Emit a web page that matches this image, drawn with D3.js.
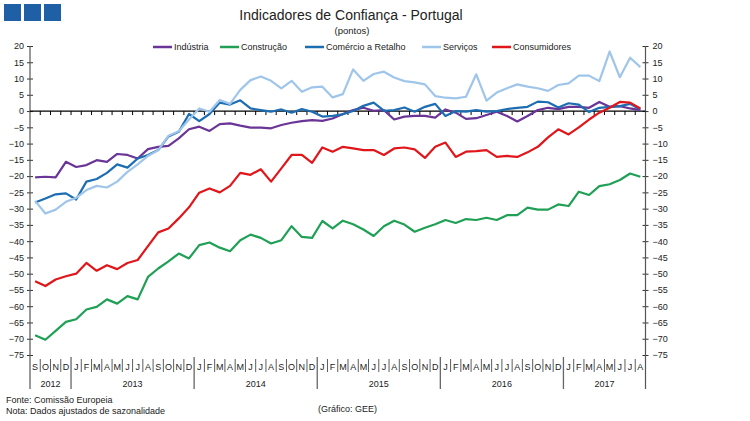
<!DOCTYPE html>
<html>
<head>
<meta charset="utf-8">
<script src="https://cdn.jsdelivr.net/npm/d3@7"></script>
<style>
  body { margin: 0; background: #fff; }
  svg { font-family: "Liberation Sans", Arial, sans-serif; }
</style>
</head>
<body>
<div id="chart"></div>
<script>
// meses: Set 2012 .. Ago 2017
var monthInitials = ['J','F','M','A','M','J','J','A','S','O','N','D'];
var startMonth = 8; // Setembro
var nMonths = 60;
var years = ['2012','2013','2014','2015','2016','2017'];
var yTicks = d3.range(-75, 21, 5);

var industria = [-20.4,-20.2,-20.4,-15.6,-17.2,-16.6,-15.1,-15.6,-13.2,-13.5,-14.6,-11.7,-11,-10.7,-8.4,-5.6,
  -4.8,-6.1,-4,-3.8,-4.5,-5.1,-5.1,-5.3,-4.3,-3.6,-3.1,-2.8,
  -3,-2.3,-0.9,0.3,1,0.1,0.3,-2.6,-1.7,-1.5,-1.5,-2,
  0.5,-0.5,-2.4,-2.2,-1.2,-0.2,-1.5,-3.2,-1.5,0.3,1,0.6,
  1.3,1.3,1,2.8,1.3,1.5,0.8,0.3];
var construcao = [-68.9,-70.3,-67.6,-64.8,-64,-61,-60.2,-57.9,-59.2,-56.9,-57.9,-51,-48.4,-46.2,-43.8,-45.3,
  -41.2,-40.4,-42,-43.1,-39.7,-38,-39,-40.7,-39.7,-35.4,-38.7,-39,
  -33.8,-36.1,-33.7,-34.8,-36.4,-38.4,-35.4,-33.7,-34.9,-37.1,-35.9,-34.8,
  -33.5,-34.4,-33.2,-33.5,-32.8,-33.5,-32,-32,-29.7,-30.3,-30.3,-28.7,
  -29.2,-24.8,-25.8,-23.1,-22.5,-21.2,-19.2,-20.2];
var comercio = [-28.1,-26.9,-25.6,-25.3,-27.2,-21.7,-20.9,-19,-16.4,-17.4,-14.6,-13.5,-12,-7.8,-6.4,-0.9,
  -3.1,-0.9,2.6,2,3.3,0.8,0.3,-0.2,0.5,-0.5,0.6,-0.2,
  -1.7,-1.5,-1,0,1.6,2.6,0.1,0.3,1.1,-0.2,1.3,2.2,
  -1.5,0,-0.2,0.3,-0.2,0,0.6,1,1.3,2.9,2.7,1.1,
  2.4,2,-0.3,1,1.3,1.5,2.2,0.5];
var servicos = [-27.6,-31.5,-30.3,-27.9,-26.7,-24.3,-23,-23.5,-21.7,-18.7,-16.4,-13.8,-12,-7.6,-6.2,-2.6,
  0.8,-0.2,3.4,2.2,6.5,9.5,10.6,9.3,7,9.3,5.9,7.3,
  7.5,4.2,5.2,12.8,9.3,11.4,12.1,10.3,9.2,8.8,8.2,4.6,
  4.1,3.9,4.4,11.3,3.2,5.7,7,8.2,7.5,7,6.2,8,
  8.5,10.9,10.9,9.2,18.3,10.4,16.4,13.5];
var consumidores = [-52.3,-53.8,-51.8,-50.8,-50,-46.7,-49.1,-47.4,-48.6,-46.7,-45.8,-41.5,-37.3,-36.1,-33,-29.6,
  -25.1,-23.8,-25,-23,-19,-19.6,-17.9,-21.7,-17.6,-13.5,-13.5,-15.9,
  -11.2,-12.5,-11,-11.5,-12,-12,-13.5,-11.5,-11.2,-11.8,-14.4,-11,
  -9.7,-14.1,-12.5,-12.3,-12,-14.1,-13.8,-14.1,-12.7,-11,-8.1,-5.6,
  -7.2,-5,-2.6,-0.5,1,2.8,2.6,0.8];

var seriesNames = ['Indústria','Construção','Comércio a Retalho','Serviços','Consumidores'];
var seriesData = [industria, construcao, comercio, servicos, consumidores];
var colors = ['#6a3597','#1fa055','#1d6db2','#9fc6ea','#e0161b'];

var W = 750, H = 421;
var plotL = 30, plotR = 645.5, plotT = 46, plotB = 355;

var svg = d3.select('#chart').append('svg').attr('width', W).attr('height', H);

// logo
svg.selectAll('rect.logo').data([0,1,2]).enter().append('rect')
  .attr('x', function(d){ return 4 + d * 20; }).attr('y', 4)
  .attr('width', 17).attr('height', 17).attr('fill', '#1f5fa6');

svg.append('text').attr('x', 351).attr('y', 20).attr('text-anchor', 'middle')
  .style('font-size', '14px').attr('fill', '#222').text('Indicadores de Confiança - Portugal');
svg.append('text').attr('x', 352).attr('y', 34).attr('text-anchor', 'middle')
  .style('font-size', '9.5px').attr('fill', '#222').text('(pontos)');

var x = d3.scaleBand().domain(d3.range(nMonths)).range([plotL, plotR]);
var bw = x.bandwidth();
var y = d3.scaleLinear().domain([-75, 20]).range([plotB, plotT]);

// eixos verticais
function vAxis(axis, pos, dx) {
  var g = svg.append('g').attr('transform', 'translate(' + pos + ',0)').call(axis.tickValues(yTicks).tickSize(3).tickPadding(5));
  g.select('.domain').remove();
  g.selectAll('.tick line').attr('x1', -3).attr('x2', 3).attr('stroke', '#333');
  g.selectAll('.tick text').style('font-size', '9px').attr('fill', '#222')
    .attr('x', dx);
  g.append('line').attr('x1', 0).attr('x2', 0).attr('y1', plotT).attr('y2', 389)
    .attr('stroke', '#555').attr('stroke-width', 1.2);
}
vAxis(d3.axisLeft(y), plotL, -6);
vAxis(d3.axisRight(y), plotR, 7);

// linha do zero com marcas mensais
svg.append('line').attr('x1', plotL).attr('x2', plotR).attr('y1', y(0)).attr('y2', y(0))
  .attr('stroke', '#000').attr('stroke-width', 1.2);
svg.selectAll('line.mt').data(d3.range(1, nMonths)).enter().append('line')
  .attr('x1', function(d){ return x(d); }).attr('x2', function(d){ return x(d); })
  .attr('y1', y(0)).attr('y2', y(0) + 4).attr('stroke', '#000');

// eixo de meses
var monthIdx = d3.range(nMonths);
svg.selectAll('text.month').data(monthIdx).enter().append('text')
  .attr('x', function(d){ return x(d) + bw / 2; }).attr('y', 370)
  .attr('text-anchor', 'middle').style('font-size', '9px').attr('fill', '#222')
  .text(function(d){ return monthInitials[(startMonth + d) % 12]; });
svg.selectAll('line.sep').data(d3.range(1, nMonths)).enter().append('line')
  .attr('x1', function(d){ return x(d); }).attr('x2', function(d){ return x(d); })
  .attr('y1', function(d){ return (startMonth + d) % 12 === 0 ? 357 : 359; })
  .attr('y2', function(d){ return (startMonth + d) % 12 === 0 ? 389 : 372; })
  .attr('stroke', function(d){ return (startMonth + d) % 12 === 0 ? '#666' : '#333'; })
  .attr('stroke-width', function(d){ return (startMonth + d) % 12 === 0 ? 1.3 : 0.8; });

// anos centrados nos seus meses
var yearPos = years.map(function(yr, k){
  var idx = monthIdx.filter(function(d){ return Math.floor((startMonth + d) / 12) === k; });
  return { label: yr, x: (x(idx[0]) + x(idx[idx.length - 1]) + bw) / 2 };
});
svg.selectAll('text.year').data(yearPos).enter().append('text')
  .attr('x', function(d){ return d.x; }).attr('y', 387).attr('text-anchor', 'middle')
  .style('font-size', '9px').attr('fill', '#222').text(function(d){ return d.label; });

// séries
var line = d3.line().x(function(d, i){ return x(i) + bw / 2; }).y(function(d){ return y(d); });
seriesData.forEach(function(s, k){
  svg.append('path').datum(s).attr('d', line).attr('fill', 'none')
    .attr('stroke', colors[k]).attr('stroke-width', 2.2).attr('stroke-linejoin', 'round');
});

// legenda
var legX = [153, 220, 305, 422, 492];
var leg = svg.selectAll('g.leg').data(seriesNames).enter().append('g')
  .attr('transform', function(d, i){ return 'translate(' + legX[i] + ',47)'; });
leg.append('line').attr('x1', 0).attr('x2', 19).attr('y1', 0).attr('y2', 0)
  .attr('stroke', function(d, i){ return colors[i]; }).attr('stroke-width', 2.5);
leg.append('text').attr('x', 21).attr('y', 3.2).style('font-size', '9px').attr('fill', '#222')
  .text(function(d){ return d; });

// notas
svg.append('text').attr('x', 6).attr('y', 403).style('font-size', '9px').attr('fill', '#222').text('Fonte: Comissão Europeia');
svg.append('text').attr('x', 6).attr('y', 414).style('font-size', '9px').attr('fill', '#222').text('Nota: Dados ajustados de sazonalidade');
svg.append('text').attr('x', 318).attr('y', 412).style('font-size', '9px').attr('fill', '#222').text('(Gráfico: GEE)');
</script>
</body>
</html>
